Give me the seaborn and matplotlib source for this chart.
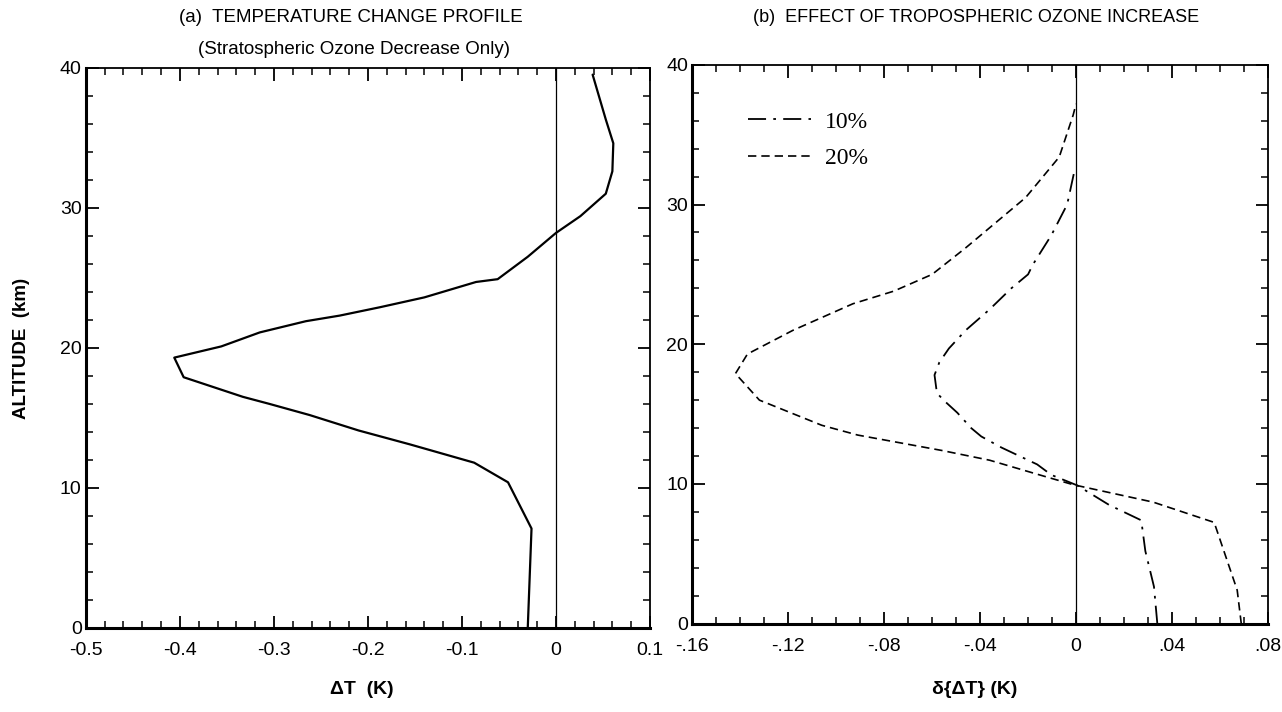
import numpy as np
import pandas as pd
import matplotlib
matplotlib.use("Agg")
import matplotlib.pyplot as plt
from matplotlib.ticker import MultipleLocator, FuncFormatter
import seaborn as sns

# ---- data: panel (a) temperature change, stratospheric ozone decrease only
alt_a = [0.0, 7.1, 10.4, 11.8, 13.1, 14.1, 15.2, 16.0, 16.5, 17.9, 19.3, 20.1,
         21.1, 21.9, 22.3, 22.9, 23.6, 24.7, 24.9, 26.5, 28.2, 29.4, 31.0, 32.6,
         34.6, 36.3, 39.5]
dT_a = [-0.030, -0.026, -0.051, -0.087, -0.155, -0.210, -0.262, -0.305, -0.333,
        -0.396, -0.406, -0.356, -0.315, -0.266, -0.230, -0.187, -0.140, -0.085,
        -0.062, -0.030, 0.000, 0.026, 0.053, 0.060, 0.061, 0.053, 0.039]

# ---- data: panel (b) effect of tropospheric ozone increase
alt_20 = [0.0, 2.4, 7.25, 8.7, 9.95, 10.7, 11.7, 12.4, 13.5, 14.2, 16.0, 17.9,
          19.3, 21.0, 22.9, 23.8, 25.0, 26.9, 30.5, 33.4, 36.4, 37.2]
d_20 = [0.0689, 0.0672, 0.0576, 0.0322, -0.0012, -0.0162, -0.036, -0.056, -0.091,
        -0.106, -0.132, -0.142, -0.137, -0.118, -0.093, -0.076, -0.060, -0.046,
        -0.021, -0.007, -0.0012, 0.0]

alt_10 = [0.0, 2.65, 5.2, 7.4, 8.5, 9.9, 10.65, 11.4, 12.6, 13.4, 14.0, 15.1,
          15.9, 16.5, 17.8, 18.7, 19.7, 21.0, 22.5, 24.0, 25.0, 25.7, 27.8, 30.0,
          32.3]
d_10 = [0.0339, 0.0325, 0.0289, 0.0272, 0.0138, 0.0005, -0.0103, -0.0162, -0.031,
        -0.0395, -0.0437, -0.0495, -0.0546, -0.058, -0.059, -0.057, -0.053, -0.046,
        -0.036, -0.027, -0.020, -0.018, -0.0103, -0.0037, -0.0008]

xticks_a = [-0.5, -0.4, -0.3, -0.2, -0.1, 0, 0.1]
xticks_b = [-0.16, -0.12, -0.08, -0.04, 0, 0.04, 0.08]
xlabels_b = ["-.16", "-.12", "-.08", "-.04", "0", ".04", ".08"]
yticks = [0, 10, 20, 30, 40]

df_a = pd.DataFrame({"dT": dT_a, "alt": alt_a})
df_10 = pd.DataFrame({"d": d_10, "alt": alt_10})
df_20 = pd.DataFrame({"d": d_20, "alt": alt_20})

sns.set_theme(style="ticks")
plt.rcParams["font.family"] = ["Liberation Sans", "DejaVu Sans"]
for key in ["text.color", "axes.labelcolor", "xtick.color", "ytick.color",
            "xtick.labelcolor", "ytick.labelcolor"]:
    plt.rcParams[key] = "black"

fig = plt.figure(figsize=(12.82, 7.12), dpi=100)
ax1 = fig.add_axes([0.067, 0.118, 0.440, 0.787])
ax2 = fig.add_axes([0.540, 0.124, 0.449, 0.785])


def style_axis(ax):
    for side in ["top", "right"]:
        ax.spines[side].set_linewidth(1.3)
    for side in ["bottom", "left"]:
        ax.spines[side].set_linewidth(2.2)
    for s in ax.spines.values():
        s.set_color("black")
    ax.tick_params(which="both", direction="in", top=True, right=True,
                   color="black", labelsize=14)
    ax.tick_params(axis="x", pad=10)
    ax.tick_params(axis="y", pad=3)
    ax.tick_params(which="major", length=9, width=1.3)
    ax.tick_params(which="minor", length=5, width=1.1)
    ax.set_ylim(0, 40)
    ax.set_yticks(yticks)
    ax.yaxis.set_minor_locator(MultipleLocator(2))
    ax.set_xlabel("")
    ax.set_ylabel("")
    ax.grid(False)


# ---- panel (a)
sns.lineplot(data=df_a, x="dT", y="alt", sort=False, estimator=None,
             color="black", linewidth=1.6, ax=ax1)
ax1.axvline(0, color="black", linewidth=0.9)
style_axis(ax1)
ax1.set_xlim(-0.5, 0.1)
ax1.set_xticks(xticks_a)
ax1.xaxis.set_minor_locator(MultipleLocator(0.02))
ax1.xaxis.set_major_formatter(FuncFormatter(lambda v, p: "0" if abs(v) < 1e-9 else f"{v:.1f}"))
ax1.text(0.49, -0.11, "ΔT  (K)", transform=ax1.transAxes, ha="center",
         va="center", fontsize=14, fontweight="bold")
fig.text(0.017, 0.511, "ALTITUDE  (km)", rotation=90, ha="center", va="center",
         fontsize=13.5, fontweight="bold")
ax1.text(0.47, 1.089, "(a)  TEMPERATURE CHANGE PROFILE", transform=ax1.transAxes,
         ha="center", va="center", fontsize=13.5)
ax1.text(0.475, 1.032, "(Stratospheric Ozone Decrease Only)", transform=ax1.transAxes,
         ha="center", va="center", fontsize=13.5)

# ---- panel (b)
sns.lineplot(data=df_10, x="d", y="alt", sort=False, estimator=None,
             color="black", linewidth=1.3, ax=ax2, label="10%")
sns.lineplot(data=df_20, x="d", y="alt", sort=False, estimator=None,
             color="black", linewidth=1.2, ax=ax2, label="20%")
ax2.lines[0].set_dashes([10, 4, 1.5, 4])
ax2.lines[1].set_dashes([5, 3])
ax2.axvline(0, color="black", linewidth=0.9)
style_axis(ax2)
ax2.set_xlim(-0.16, 0.08)
ax2.set_xticks(xticks_b)
ax2.set_xticklabels(xlabels_b)
ax2.xaxis.set_minor_locator(MultipleLocator(0.01))
ax2.text(0.49, -0.118, "δ{ΔT} (K)", transform=ax2.transAxes, ha="center",
         va="center", fontsize=14, fontweight="bold")
ax2.text(0.493, 1.084, "(b)  EFFECT OF TROPOSPHERIC OZONE INCREASE",
         transform=ax2.transAxes, ha="center", va="center", fontsize=13)
leg = ax2.legend(loc="upper left", bbox_to_anchor=(0.06, 0.955), frameon=False,
                 handlelength=2.65, handletextpad=0.6, labelspacing=0.62,
                 prop={"family": ["Liberation Serif", "DejaVu Serif"], "size": 17})

fig.savefig("out.png", dpi=100)
